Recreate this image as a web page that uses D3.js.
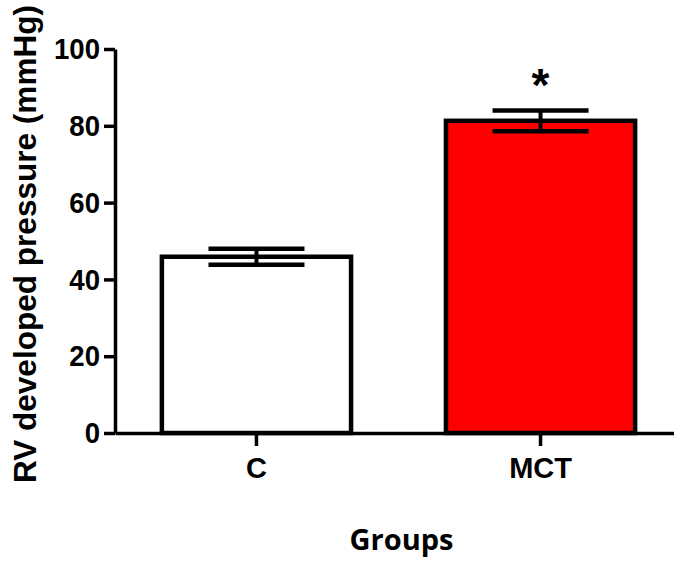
<!DOCTYPE html>
<html>
<head>
<meta charset="utf-8">
<script src="https://cdn.jsdelivr.net/npm/d3@7"></script>
<style>
  body { margin: 0; background: #fff; }
  svg { display: block; }
  .axis path, .axis line { stroke: #000; stroke-width: 3.5; }
  .axis text { font-family: "Liberation Sans", Arial, sans-serif; font-weight: bold; fill: #000; }
</style>
</head>
<body>
<svg width="674" height="562"></svg>
<script>
// data
var groups = ["C", "MCT"];
var means  = [45.9, 81.3];
var sems   = [2.1, 2.7];
var fills  = ["#ffffff", "#ff0000"];
var signif = ["", "*"];
var yTicks = [0, 20, 40, 60, 80, 100];

svg = d3.select("svg");

y = d3.scaleLinear()
		.domain([0, 100])
		.range([433, 49])
;
x = d3.scaleBand()
		.domain(groups)
		.range([115, 682])
		.paddingInner(0.334)
		.paddingOuter(0.165)
;

data = groups.map(function(g, i) { return { group: g, mean: means[i], sem: sems[i], fill: fills[i], mark: signif[i] }; });

// bars
svg.append("g").attr("class", "bars")
	.selectAll("rect")
	.data(data)
	.enter().append("rect")
		.attr("x", function(d) { return x(d.group); })
		.attr("y", function(d) { return y(d.mean); })
		.attr("width", x.bandwidth())
		.attr("height", function(d) { return y(0) - y(d.mean); })
		.attr("fill", function(d) { return d.fill; })
		.attr("stroke", "#000")
		.attr("stroke-width", 4.5)
;

// error bars
err = svg.append("g").attr("class", "err")
	.selectAll("g")
	.data(data)
	.enter().append("g")
		.attr("transform", function(d) { return "translate(" + [x(d.group) + x.bandwidth() / 2, 0] + ")"; })
;
err.append("line")
		.attr("y1", function(d) { return y(d.mean - d.sem); })
		.attr("y2", function(d) { return y(d.mean + d.sem); })
		.attr("stroke", "#000")
		.attr("stroke-width", 4)
;
[1, -1].forEach(function(s) {
	err.append("line")
		.attr("x1", -48).attr("x2", 48)
		.attr("y1", function(d) { return y(d.mean + s * d.sem); })
		.attr("y2", function(d) { return y(d.mean + s * d.sem); })
		.attr("stroke", "#000")
		.attr("stroke-width", 4.5)
	;
});
err.append("text")
		.attr("y", function(d) { return y(d.mean + d.sem) - 9; })
		.attr("text-anchor", "middle")
		.attr("font-family", "Liberation Sans, Arial, sans-serif")
		.attr("font-weight", "bold")
		.attr("font-size", 46)
		.text(function(d) { return d.mark; })
;

// axes
asisY = svg.append("g")
	.attr("class", "axis")
	.attr("transform", "translate(115,0)")
	.call(d3.axisLeft(y).tickValues(yTicks).tickSize(11).tickSizeOuter(0).tickPadding(4))
;
asisY.selectAll("text")
	.attr("font-size", 30)
	.attr("transform", function() { return "translate(" + d3.select(this).attr("x") + ",0) scale(0.92,1)"; })
	.attr("x", 0)
;

asisX = svg.append("g")
	.attr("class", "axis")
	.attr("transform", "translate(0,433)")
	.call(d3.axisBottom(x).tickSize(13).tickSizeOuter(0).tickPadding(11))
;
asisX.selectAll("text")
	.attr("font-size", 29)
	.attr("transform", function() { return "translate(" + d3.select(this).attr("x") + ",0) scale(0.95,1)"; })
	.attr("x", 0)
;

// axis titles
svg.append("text")
	.attr("transform", "translate(36,244) rotate(-90)")
	.attr("text-anchor", "middle")
	.attr("font-family", "Liberation Sans, Arial, sans-serif")
	.attr("font-weight", "bold")
	.attr("font-size", 31)
	.attr("textLength", 478)
	.attr("lengthAdjust", "spacingAndGlyphs")
	.text("RV developed pressure (mmHg)")
;
svg.append("text")
	.attr("x", 401.5)
	.attr("y", 550)
	.attr("text-anchor", "middle")
	.attr("font-family", "Open Sans, sans-serif")
	.attr("font-weight", "bold")
	.attr("font-size", 29)
	.text("Groups")
;
</script>
</body>
</html>
